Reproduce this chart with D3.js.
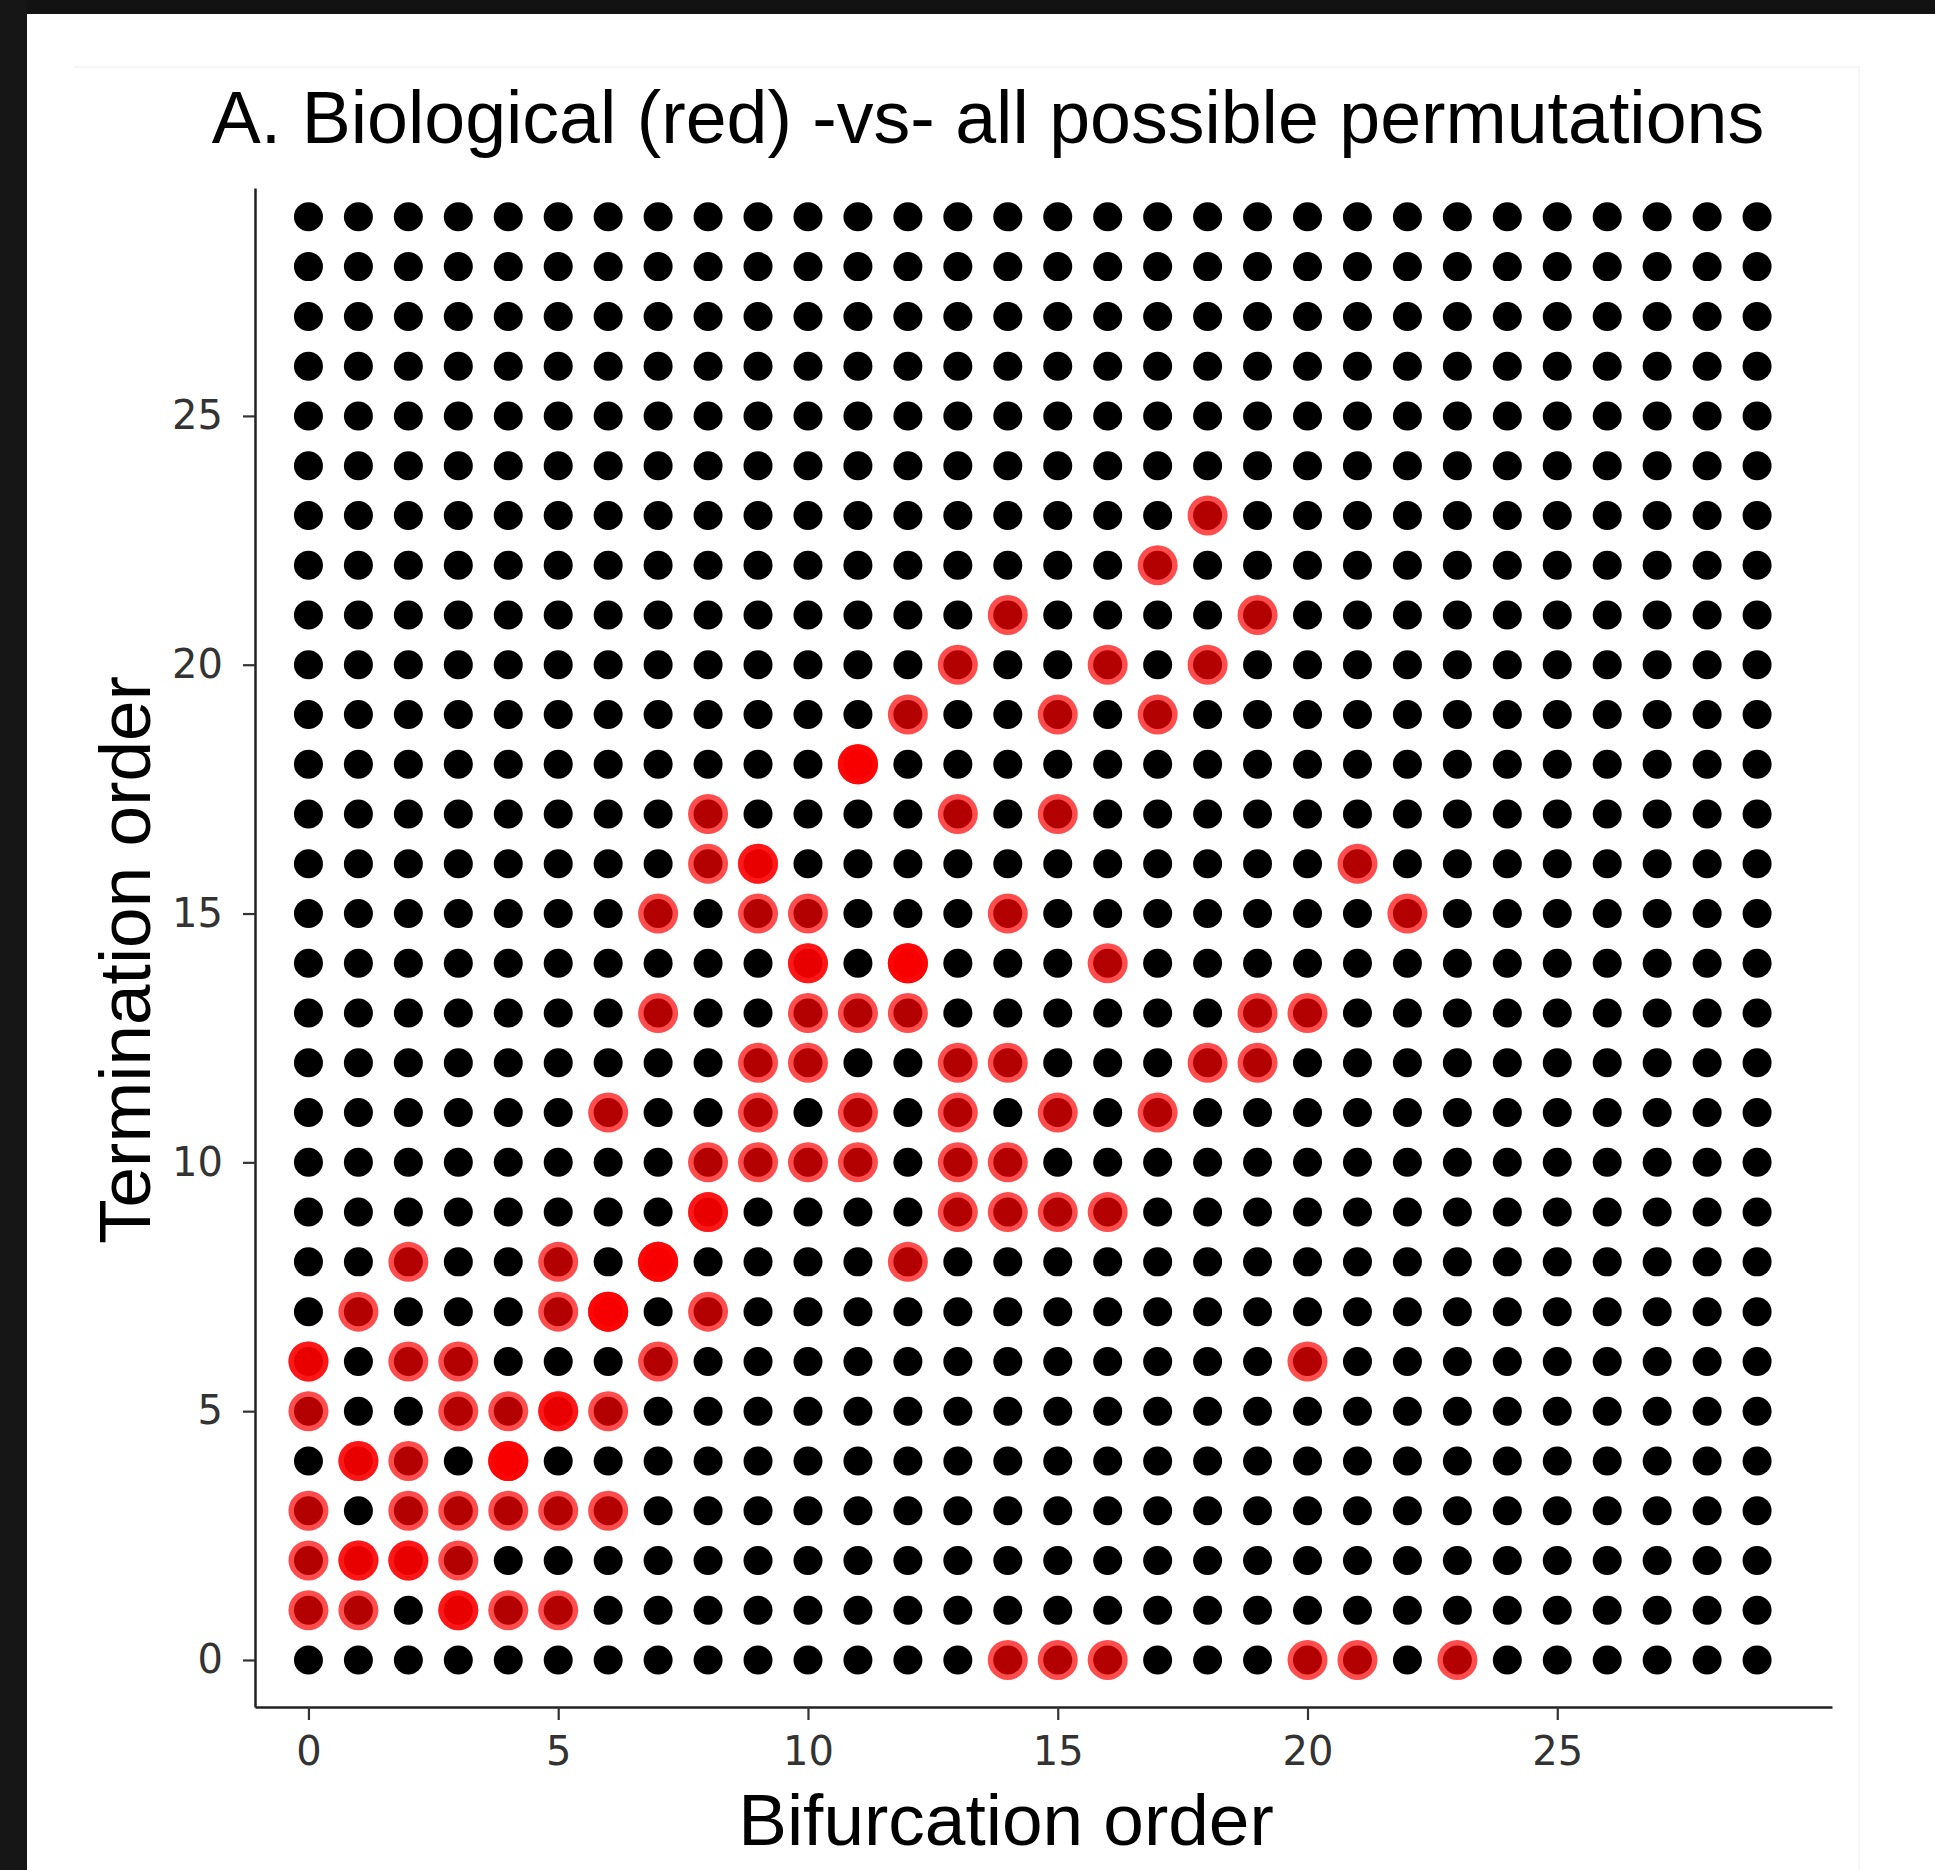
<!DOCTYPE html>
<html>
<head>
<meta charset="utf-8">
<script src="https://cdn.jsdelivr.net/npm/d3@7"></script>
<style>
  html, body { margin: 0; padding: 0; background: #ffffff; }
  svg { display: block; }
</style>
</head>
<body>
<div id="chart"></div>
<script>
// Datos: todas las combinaciones posibles (negro)
const bifurcationOrders = [0, 1, 2, 3, 4, 5, 6, 7, 8, 9, 10, 11, 12, 13, 14, 15, 16, 17, 18, 19, 20, 21, 22, 23, 24, 25, 26, 27, 28, 29];
const terminationOrders = [0, 1, 2, 3, 4, 5, 6, 7, 8, 9, 10, 11, 12, 13, 14, 15, 16, 17, 18, 19, 20, 21, 22, 23, 24, 25, 26, 27, 28, 29];

// Datos biológicos (rojo); los repetidos se superponen
const bioBifurcation = [
    14, 15, 16, 20, 21, 23,
    0, 1, 3, 3, 4, 5,
    0, 1, 1, 2, 2, 3,
    0, 2, 3, 4, 5, 6,
    1, 1, 2, 4, 4, 4,
    0, 3, 4, 5, 5, 6,
    0, 0, 2, 3, 7, 20,
    1, 5, 6, 6, 6, 8,
    2, 5, 7, 7, 7, 12,
    8, 8, 13, 14, 15, 16,
    8, 9, 10, 11, 13, 14,
    6, 9, 11, 13, 15, 17,
    9, 10, 13, 14, 18, 19,
    7, 10, 11, 12, 19, 20,
    10, 10, 12, 12, 12, 16,
    7, 9, 10, 14, 22,
    8, 9, 9, 21,
    8, 13, 15,
    11, 11, 11,
    12, 15, 17,
    13, 16, 18,
    14, 19,
    17,
    18
];
const bioTermination = [
    0, 0, 0, 0, 0, 0,
    1, 1, 1, 1, 1, 1,
    2, 2, 2, 2, 2, 2,
    3, 3, 3, 3, 3, 3,
    4, 4, 4, 4, 4, 4,
    5, 5, 5, 5, 5, 5,
    6, 6, 6, 6, 6, 6,
    7, 7, 7, 7, 7, 7,
    8, 8, 8, 8, 8, 8,
    9, 9, 9, 9, 9, 9,
    10, 10, 10, 10, 10, 10,
    11, 11, 11, 11, 11, 11,
    12, 12, 12, 12, 12, 12,
    13, 13, 13, 13, 13, 13,
    14, 14, 14, 14, 14, 14,
    15, 15, 15, 15, 15,
    16, 16, 16, 16,
    17, 17, 17,
    18, 18, 18,
    19, 19, 19,
    20, 20, 20,
    21, 21,
    22,
    23
];

const xTicks = [0, 5, 10, 15, 20, 25];
const yTicks = [0, 5, 10, 15, 20, 25];

const titleText = 'A. Biological (red) -vs- all possible permutations';
const xTitle = 'Bifurcation order';
const yTitle = 'Termination order';

// Lienzo
const width = 1935, height = 1870;
const svg = d3.select('#chart')
    .append('svg')
    .attr('width', width)
    .attr('height', height);

// Marco oscuro de la captura
svg.append('rect').attr('x', 0).attr('y', 0).attr('width', width).attr('height', 14).attr('fill', '#121212');
svg.append('rect').attr('x', 0).attr('y', 0).attr('width', 27).attr('height', height).attr('fill', '#161616');

// Borde tenue del panel
svg.append('path')
    .attr('d', 'M74,67H1859V1870')
    .attr('fill', 'none')
    .attr('stroke', '#f3f3f3')
    .attr('stroke-width', 1.5);

// Escalas
const x = d3.scaleLinear().domain([-1.07, 30.5]).range([255, 1832]);
const y = d3.scaleLinear().domain([-0.945, 29.58]).range([1707, 188]);

// Ejes
const xAxis = svg.append('g')
    .attr('transform', `translate(0,${y.range()[0]})`)
    .call(d3.axisBottom(x).tickValues(xTicks).tickSize(13).tickSizeOuter(0).tickPadding(17));
const yAxis = svg.append('g')
    .attr('transform', `translate(${x.range()[0]},0)`)
    .call(d3.axisLeft(y).tickValues(yTicks).tickSize(12).tickSizeOuter(0).tickPadding(20));

[xAxis, yAxis].forEach(g => {
    g.select('.domain').attr('stroke', '#222').attr('stroke-width', 2.5);
    g.selectAll('.tick line').attr('stroke', '#333').attr('stroke-width', 2.2);
    g.selectAll('.tick text')
        .attr('fill', '#333')
        .style('font-family', '"DejaVu Sans", sans-serif')
        .style('font-size', '40px');
});

// Puntos: todas las permutaciones
const grid = [];
terminationOrders.forEach(t => bifurcationOrders.forEach(b => grid.push({ b, t })));

svg.append('g')
    .selectAll('circle')
    .data(grid)
    .join('circle')
    .attr('cx', d => x(d.b))
    .attr('cy', d => y(d.t))
    .attr('r', 14.5)
    .attr('fill', '#000');

// Puntos biológicos
const bio = bioBifurcation.map((b, i) => ({ b, t: bioTermination[i] }));

svg.append('g')
    .selectAll('circle')
    .data(bio)
    .join('circle')
    .attr('cx', d => x(d.b))
    .attr('cy', d => y(d.t))
    .attr('r', 20)
    .attr('fill', '#ff0000')
    .attr('fill-opacity', 0.7);

// Títulos
const font = '"Liberation Sans", Arial, sans-serif';
svg.append('text')
    .attr('x', 988)
    .attr('y', 143)
    .attr('text-anchor', 'middle')
    .style('font-family', font)
    .style('font-size', '73.5px')
    .attr('fill', '#000')
    .text(titleText);

svg.append('text')
    .attr('x', 1006)
    .attr('y', 1845)
    .attr('text-anchor', 'middle')
    .style('font-family', font)
    .style('font-size', '73px')
    .attr('fill', '#000')
    .text(xTitle);

svg.append('text')
    .attr('transform', 'translate(150,960) rotate(-90)')
    .attr('text-anchor', 'middle')
    .style('font-family', font)
    .style('font-size', '73px')
    .attr('fill', '#000')
    .text(yTitle);
</script>
</body>
</html>
